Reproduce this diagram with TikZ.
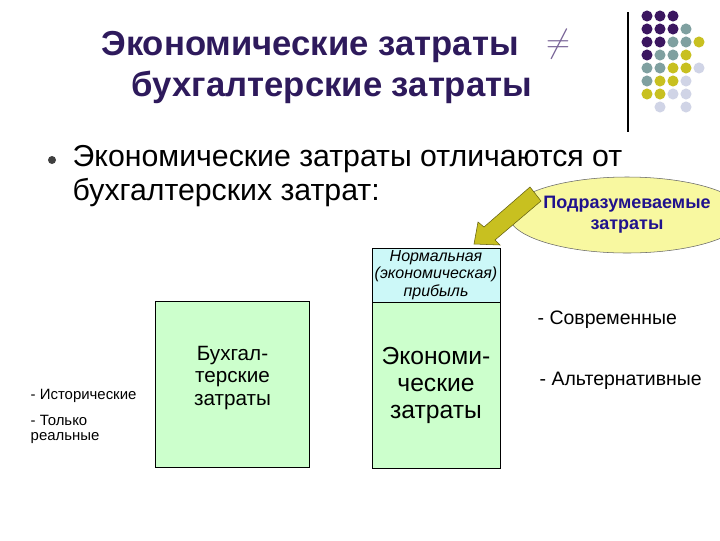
\documentclass[tikz,border=0pt]{standalone}
\usepackage{fontspec}
\setmainfont{Liberation Sans}
\usetikzlibrary{shapes.geometric}
\definecolor{pp}{HTML}{3B1660}
\definecolor{tt}{HTML}{7FA0A0}
\definecolor{yy}{HTML}{C8C020}
\definecolor{ll}{HTML}{D0D4E6}
\definecolor{ttl}{HTML}{2E1A5C}
\definecolor{gbox}{HTML}{CCFFCC}
\definecolor{cbox}{HTML}{CCF8F8}
\definecolor{ell}{HTML}{F8F8A0}
\tikzset{
  dot/.style={circle,inner sep=0pt,minimum size=8.3pt},
  box/.style={draw=black,line width=0.6pt,inner sep=0pt},
  px/.style={font=\fontsize{#1}{#1}\selectfont},
}
\begin{document}
\begin{tikzpicture}[x=0.75pt,y=-0.75pt]
\useasboundingbox (0,0) rectangle (720,540);
\fill[white] (0,0) rectangle (720,540);
% dot grid
\foreach \r/\row in {0/{pp,pp,pp},1/{pp,pp,pp,tt},2/{pp,pp,tt,tt,yy},3/{pp,tt,tt,yy},4/{tt,tt,yy,yy,ll},5/{tt,yy,yy,ll},6/{yy,yy,ll,ll}}{
  \foreach \c [count=\i from 0] in \row {
    \node[dot,fill=\c] (d\r\i) at (647+13*\i,16+13*\r) {};
  }
}
\node[dot,fill=ll] (d71) at (660,107) {};
\node[dot,fill=ll] (d73) at (686,107) {};
\coordinate (vt) at (628,12); \coordinate (vb) at (628,132);
\draw[line width=0.8pt] (vt) -- (vb);
% title
\node[text=ttl,font=\bfseries\fontsize{26}{26}\selectfont] (t1) at (310,47) {Экономические затраты};
\node[px=24,text=ll!40!pp] (ne) at (558,44) {$\neq$};
\node[text=ttl,font=\bfseries\fontsize{26}{26}\selectfont] (t2) at (332,87) {бухгалтерские затраты};
% bullet
\node[circle,fill=black!75,inner sep=0pt,minimum size=6pt] (bl) at (52,160) {};
\node[px=22.7,anchor=west] (b1) at (68,159) {Экономические затраты отличаются от};
\node[px=22.7,anchor=west] (b2) at (68,193) {бухгалтерских затрат:};
% ellipse
\node[ellipse,draw=black!60,fill=ell,minimum width=126,minimum height=57,inner sep=0pt,align=center,text=ttl!70!blue,font=\bfseries\fontsize{13.5}{16}\selectfont] (el) at (627,215) {Подразумеваемые\\затраты};
% boxes
\node[box,fill=cbox,minimum width=96,minimum height=40.5,align=center,font=\itshape\fontsize{12}{13}\selectfont] (np) at (436,275) {Нормальная\\(экономическая)\\прибыль};
\node[box,fill=gbox,minimum width=96,minimum height=124,anchor=north,align=center,font=\fontsize{18.5}{20}\selectfont] (ec) at (np.south) {Экономи-\\ческие\\затраты};
\node[box,fill=gbox,minimum width=116,minimum height=124] (bu) at (232.5,384.5) {};
\node[align=center,font=\fontsize{15.5}{17}\selectfont] (bt) at (232.5,378) {Бухгал-\\терские\\затраты};
% arrow
\coordinate (ah) at (474,244);
\fill[yy,draw=black!50!yy] (ah) -- (478,222) -- (484,227) -- (530,187) -- (541,201) -- (495,240) -- (500,245) -- cycle;
% side labels
\node[px=11.2,anchor=west] (h1) at (26,396) {- Исторические};
\node[px=11.2,anchor=west,align=left] (h2) at (26,429) {- Только\\реальные};
\node[px=14.6,anchor=west] (s1) at (533,320) {- Современные};
\node[px=14.6,anchor=west] (s2) at (535,381) {- Альтернативные};
\end{tikzpicture}
\end{document}
